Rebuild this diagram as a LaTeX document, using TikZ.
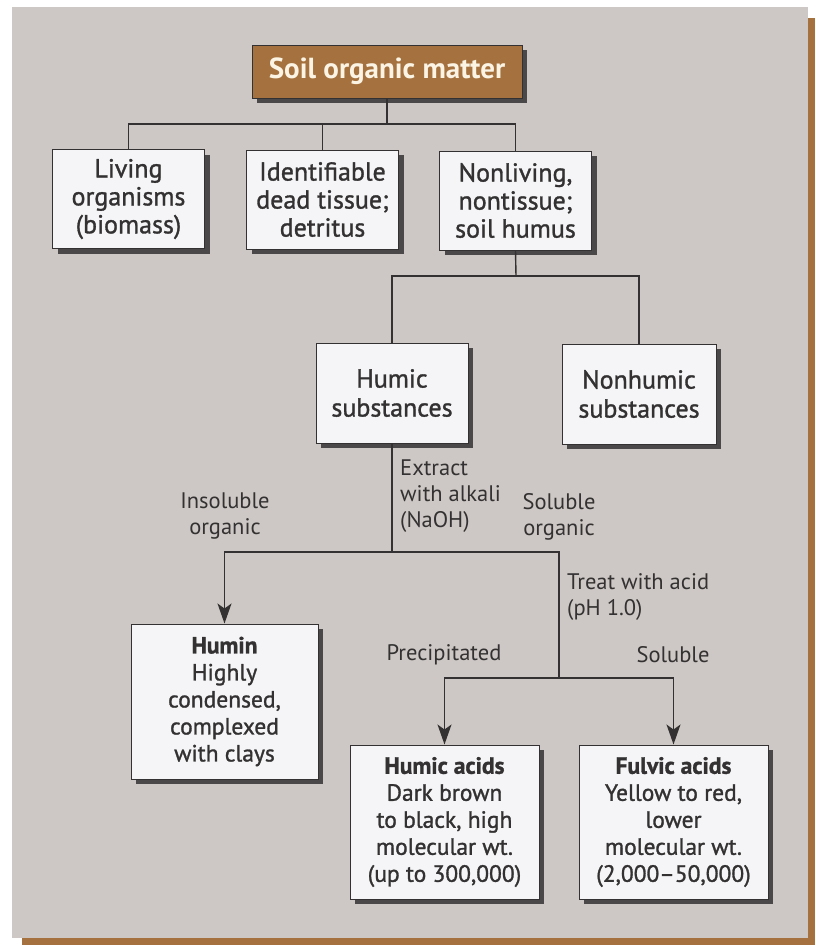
\documentclass[tikz,border=0pt]{standalone}
\usepackage{fontspec}
\setmainfont{PT Sans}
\newfontfamily\medfont[Ligatures=TeX,RawFeature={embolden=1.2}]{PT Sans}
\usetikzlibrary{arrows.meta,shadows}
\definecolor{panelgray}{HTML}{CDC8C5}
\definecolor{soilbrown}{HTML}{A5723F}
\definecolor{boxwhite}{HTML}{F5F5F7}
\definecolor{lineink}{HTML}{333131}
\definecolor{shadowgray}{HTML}{4A4848}
\definecolor{titletext}{HTML}{FBF3E4}
\tikzset{
  box/.style={draw=lineink, line width=1pt, fill=boxwhite, text=lineink, align=center,
    inner sep=0pt, font=\medfont\fontsize{26}{28}\selectfont,
    drop shadow={shadow xshift=5pt, shadow yshift=-5pt, fill=shadowgray, opacity=1}},
  tierbox/.style={box, minimum width=152pt, minimum height=99pt},
  endbox/.style={box, minimum width=188pt, minimum height=154pt, font=\medfont\fontsize{23.5}{27}\selectfont},
  lbl/.style={font=\fontsize{22.5}{26}\selectfont, text=lineink, inner sep=0pt},
  wire/.style={draw=lineink, line width=1.4pt},
  arr/.style={wire, -{Stealth[length=20pt,width=14pt,inset=5pt]}}
}
\begin{document}
\begin{tikzpicture}[x=1pt,y=-1pt]
\useasboundingbox (0,0) rectangle (815,945);
% page and panel
\fill[white] (0,0) rectangle (815,945);
\fill[panelgray] (12,7) rectangle (808,938);
\fill[soilbrown] (808,18) rectangle (815,945);
\fill[soilbrown] (22,938) rectangle (815,945);

% boxes
\node[box, fill=soilbrown, text=titletext, font=\fontsize{29}{32}\selectfont\bfseries,
  minimum width=270pt, minimum height=53pt] (som) at (387,71.5) {Soil organic matter};
\node[tierbox] (living) at (128.5,199) {Living\\organisms\\(biomass)};
\node[tierbox] (dead) at (322.5,199.5) {Identifiable\\dead tissue;\\detritus};
\node[tierbox] (nonliv) at (515.5,200.5) {Nonliving,\\nontissue;\\soil humus};
\node[tierbox, minimum height=100pt, font=\medfont\fontsize{26}{29}\selectfont] (humic) at (392,393) {Humic\\substances};
\node[tierbox, minimum width=154pt, minimum height=100pt, font=\medfont\fontsize{26}{29}\selectfont] (nonhum) at (639,394) {Nonhumic\\substances};
\node[endbox, minimum width=187pt, minimum height=155pt] (humin) at (224.5,701.5)
  {\textbf{Humin}\\Highly\\condensed,\\complexed\\with clays};
\node[endbox, minimum width=189pt] (hacid) at (444.5,822)
  {\textbf{Humic acids}\\Dark brown\\to black, high\\molecular wt.\\(up to 300,000)};
\node[endbox, minimum width=189pt] (facid) at (673.5,822)
  {\textbf{Fulvic acids}\\Yellow to red,\\lower\\molecular wt.\\(2,000--50,000)};

% junctions
\coordinate (bus1) at (387,124);
\coordinate (bus2) at (516,276);
\coordinate (split) at (392,552);
\coordinate (acid) at (559,678);

% connectors
\draw[wire] (som.south) -- (bus1);
\draw[wire] (living.north) |- (bus1) -| (nonliv.north);
\draw[wire] (dead.north) -- (dead.north |- bus1);
\draw[wire] (nonliv.south) -- (bus2);
\draw[wire] (humic.north) |- (bus2) -| (nonhum.north);
\draw[wire] (humic.south) -- (split);
\draw[arr] (split) -| (humin.north);
\draw[wire] (split) -| (acid);
\draw[arr] (acid) -| (hacid.north);
\draw[arr] (acid) -| (facid.north);

% labels
\node[lbl, anchor=west, align=left] (alkali) at (400,496) {Extract\\with alkali\\(NaOH)};
\node[lbl, align=center] (insol) at (225,516) {Insoluble\\organic};
\node[lbl, align=center] (sol) at (559,517) {Soluble\\organic};
\node[lbl, anchor=west, align=left] (treat) at (567,597) {Treat with acid\\(pH 1.0)};
\node[lbl] (precip) at (444,655) {Precipitated};
\node[lbl] (solub) at (673,655) {Soluble};
\end{tikzpicture}
\end{document}
